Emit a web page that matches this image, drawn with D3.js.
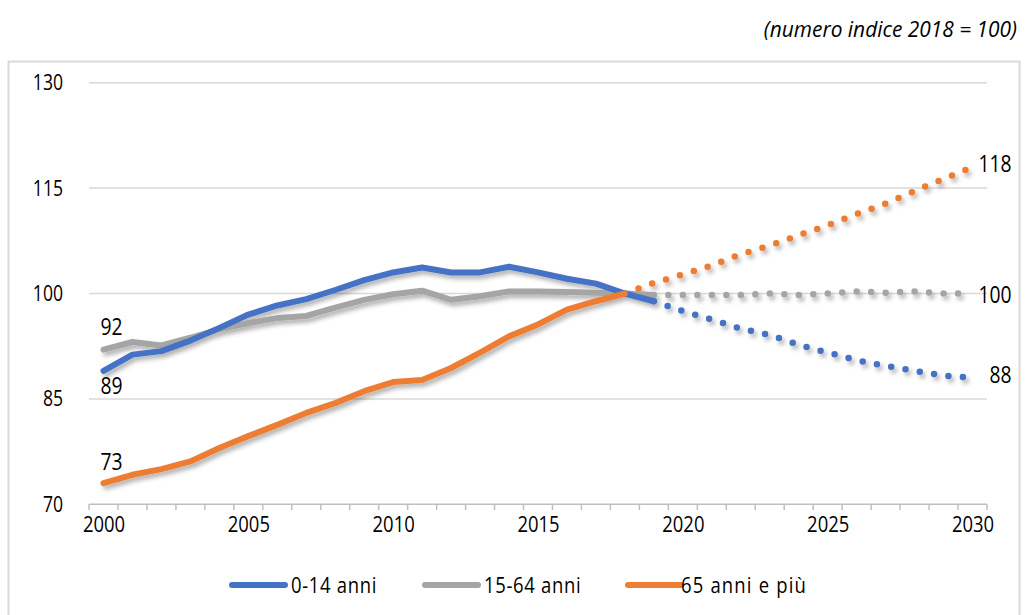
<!DOCTYPE html>
<html>
<head>
<meta charset="utf-8">
<script src="https://cdn.jsdelivr.net/npm/d3@7"></script>
<style>
  html, body { margin: 0; padding: 0; background: #fff; }
  svg { display: block; }
  text { font-family: "Open Sans", sans-serif; fill: #000; }
</style>
</head>
<body>
<svg id="chart" width="1026" height="615"></svg>
<script>
// Population by age group, index 2018 = 100
const years = [2000, 2001, 2002, 2003, 2004, 2005, 2006, 2007, 2008, 2009,
               2010, 2011, 2012, 2013, 2014, 2015, 2016, 2017, 2018, 2019,
               2020, 2021, 2022, 2023, 2024, 2025, 2026, 2027, 2028, 2029, 2030];

// observed values 2000-2019 (65+: 2000-2018)
const young_obs   = [89, 91.3, 91.8, 93.3, 95.1, 97.0, 98.3, 99.2, 100.5, 101.9,
                     103.0, 103.7, 103.0, 103.0, 103.8, 103.0, 102.1, 101.4, 100.0, 98.9];
const working_obs = [92, 93.1, 92.6, 93.7, 94.9, 95.8, 96.5, 96.8, 98.0, 99.1,
                     99.9, 100.4, 99.1, 99.6, 100.3, 100.3, 100.2, 100.1, 100.0, 99.8];
const elderly_obs = [73, 74.2, 75.0, 76.1, 78.0, 79.7, 81.3, 83.0, 84.4, 86.1,
                     87.4, 87.7, 89.4, 91.6, 93.9, 95.6, 97.7, 98.9, 100.0];

// projections 2019-2030 (65+: 2018-2030)
const young_proj   = [98.9, 97.5, 96.3, 95.0, 94.1, 92.7, 91.6, 90.5, 89.7, 89.0, 88.3, 88];
const working_proj = [99.8, 99.8, 99.8, 99.8, 100.0, 99.8, 100.0, 100.3, 100.1, 100.3, 100.0, 100];
const elderly_proj = [100.0, 101.5, 102.7, 104.0, 105.6, 106.8, 108.3, 109.7, 111.3, 112.8, 114.6, 116.3, 118];

const yTicks = [70, 85, 100, 115, 130];
const xTickYears = [2000, 2005, 2010, 2015, 2020, 2025, 2030];
const seriesNames = ["0-14 anni", "15-64 anni", "65 anni e più"];
const colors = ["#4472C4", "#A5A5A5", "#ED7D31"];
const subtitle = "(numero indice 2018 = 100)";

const NARROW = 0.84;   // horizontal squeeze for a condensed look

const svg = d3.select("#chart");

// place a text at (x, y) inside a horizontally squeezed group
function narrowText(parent, x, y, str, size, anchor, k) {
  const t = parent.append("g")
    .attr("transform", `translate(${x},${y}) scale(${k || NARROW},1)`)
    .append("text")
    .attr("text-anchor", anchor || "start")
    .style("font-size", size + "px")
    .text(str);
  return t;
}

const defs = svg.append("defs");
const shadow = defs.append("filter").attr("id", "shadow")
  .attr("x", "-10%").attr("y", "-10%").attr("width", "130%").attr("height", "140%");
shadow.append("feDropShadow")
  .attr("dx", 2.5).attr("dy", 3.5).attr("stdDeviation", 2)
  .attr("flood-color", "#000").attr("flood-opacity", 0.3);

// outer frame
svg.append("rect")
  .attr("x", 8.5).attr("y", 61.5).attr("width", 1011).attr("height", 570)
  .attr("fill", "none").attr("stroke", "#d9d9d9").attr("stroke-width", 2);

narrowText(svg, 1017, 37, subtitle, 22, "end", 0.95).style("font-style", "italic");

const x = d3.scalePoint().domain(years).range([89, 987]).padding(0.5);
const bandW = x.step();
const y = d3.scaleLinear().domain([70, 130]).range([504.3, 82.7]);

// gridlines
svg.append("g")
  .selectAll("line")
  .data(yTicks.filter(d => d > 70))
  .join("line")
  .attr("x1", 89).attr("x2", 987)
  .attr("y1", d => y(d)).attr("y2", d => y(d))
  .attr("stroke", "#d9d9d9").attr("stroke-width", 1.5);

// y axis labels
const yAxis = d3.axisLeft(y).tickValues(yTicks).tickSize(0).tickPadding(0);
svg.append("g")
  .attr("transform", "translate(63,0)")
  .call(yAxis)
  .call(g => g.select(".domain").remove())
  .call(g => g.selectAll("text")
    .attr("x", 0)
    .attr("transform", "scale(0.8,1)")
    .style("font-size", "22px")
    .attr("font-family", null));

// x axis: category axis with ticks between categories
const boundaries = d3.range(years.length + 1).map(i => 89 + i * bandW);
const xg = svg.append("g");
xg.append("line")
  .attr("x1", 89).attr("x2", 987)
  .attr("y1", 504.3).attr("y2", 504.3)
  .attr("stroke", "#bfbfbf").attr("stroke-width", 1.5);
xg.selectAll("line.tick")
  .data(boundaries)
  .join("line")
  .attr("class", "tick")
  .attr("x1", d => d).attr("x2", d => d)
  .attr("y1", 504.3).attr("y2", 510)
  .attr("stroke", "#bfbfbf").attr("stroke-width", 1.5);

const xAxis = d3.axisBottom(x).tickValues(xTickYears).tickSize(0).tickPadding(0);
svg.append("g")
  .attr("transform", "translate(0,516)")
  .call(xAxis)
  .call(g => g.select(".domain").remove())
  .call(g => g.selectAll("text")
    .attr("transform", `scale(${NARROW},1)`)
    .style("font-size", "22px")
    .attr("font-family", null));

const line = d3.line().x(d => x(d.year)).y(d => y(d.v));

function toPoints(startYear, vals) {
  const i0 = years.indexOf(startYear);
  return vals.map((v, i) => ({ year: years[i0 + i], v }));
}

const series = [
  { obs: toPoints(2000, young_obs),   proj: toPoints(2019, young_proj),   color: colors[0] },
  { obs: toPoints(2000, working_obs), proj: toPoints(2019, working_proj), color: colors[1] },
  { obs: toPoints(2000, elderly_obs), proj: toPoints(2018, elderly_proj), color: colors[2] }
];

const lines = svg.append("g").attr("filter", "url(#shadow)");

// projections: round dotted lines
lines.selectAll("path.proj")
  .data(series)
  .join("path")
  .attr("class", "proj")
  .attr("d", d => line(d.proj))
  .attr("fill", "none")
  .attr("stroke", d => d.color)
  .attr("stroke-width", 6.5)
  .attr("stroke-linecap", "round")
  .attr("stroke-dasharray", "0 14.5");

// observed: solid lines (draw order: gray, blue, orange)
lines.selectAll("path.obs")
  .data([series[1], series[0], series[2]])
  .join("path")
  .attr("class", "obs")
  .attr("d", d => line(d.obs))
  .attr("fill", "none")
  .attr("stroke", d => d.color)
  .attr("stroke-width", 6)
  .attr("stroke-linejoin", "round")
  .attr("stroke-linecap", "round");

// value labels at the start and end
const fmt = d3.format(".0f");
const labelsG = svg.append("g");
const startLabels = [
  { p: series[1].obs[0], dy: -23 },
  { p: series[0].obs[0], dy: 15 },
  { p: series[2].obs[0], dy: -21 }
];
startLabels.forEach(d => {
  narrowText(labelsG, x(d.p.year) + 8, y(d.p.v) + d.dy, fmt(d.p.v), 23, "middle")
    .attr("dy", "0.35em");
});

const endLabels = [
  { p: series[2].proj[series[2].proj.length - 1], dy: -3 },
  { p: series[1].proj[series[1].proj.length - 1], dy: 1 },
  { p: series[0].proj[series[0].proj.length - 1], dy: -3 }
];
endLabels.forEach(d => {
  narrowText(labelsG, x(d.p.year) + 39, y(d.p.v) + d.dy, fmt(d.p.v), 23, "end")
    .attr("dy", "0.35em");
});

// legend
const legendX = [232, 425, 628];
const lg = svg.append("g");
seriesNames.forEach((name, i) => {
  lg.append("line")
    .attr("x1", legendX[i]).attr("x2", legendX[i] + 53)
    .attr("y1", 585).attr("y2", 585)
    .attr("stroke", colors[i]).attr("stroke-width", 6)
    .attr("stroke-linecap", "round");
  narrowText(lg, legendX[i] + 59 - (i === 2 ? 6 : 0), 585, name, 22, "start")
    .attr("dy", "0.35em")
    .style("letter-spacing", i === 2 ? "1.4px" : "0.8px");
});
</script>
</body>
</html>
